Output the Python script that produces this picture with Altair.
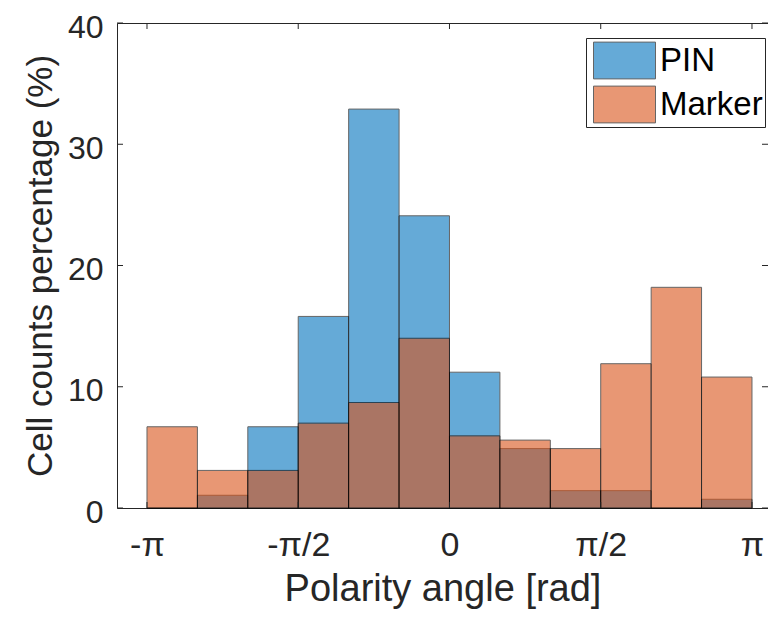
import math
import altair as alt
import pandas as pd

# bin edges in multiples of pi/6 (12 bins from -pi to pi)
edge_sixths = [-6, -5, -4, -3, -2, -1, 0, 1, 2, 3, 4, 5, 6]
pin_pct = [0, 1.05, 6.7, 15.8, 32.9, 24.1, 11.2, 4.9, 1.43, 1.43, 0, 0.72]
marker_pct = [6.7, 3.1, 3.1, 7.0, 8.7, 14.0, 5.95, 5.6, 4.9, 11.9, 18.2, 10.8]
series_names = ["PIN", "Marker"]
series_colors = ["#0072BD", "#D95319"]

x_tick_values = [-math.pi, -math.pi / 2, 0, math.pi / 2, math.pi]
x_tick_labels = ["-π", "-π/2", "0", "π/2", "π"]
y_tick_values = [0, 10, 20, 30, 40]

W, H = 651, 485
FONT = "Liberation Sans"
TXT = "#262626"

edges = [k * math.pi / 6 for k in edge_sixths]
rows = []
for name, vals in zip(series_names, [pin_pct, marker_pct]):
    for i, v in enumerate(vals):
        rows.append({"series": name, "x0": edges[i], "x1": edges[i + 1], "pct": v})
df = pd.DataFrame(rows)

xscale = alt.Scale(domain=[-3.453, 3.308], nice=False, zero=False)
yscale = alt.Scale(domain=[0, 40], nice=False)

label_expr = " : ".join(
    [f"abs(datum.value - ({v})) < 0.01 ? '{l}'" for v, l in zip(x_tick_values, x_tick_labels)]
) + " : ''"

bars = alt.Chart(df).mark_bar(opacity=0.6, stroke="black", strokeWidth=1, strokeOpacity=1).encode(
    x=alt.X("x0:Q", scale=xscale,
            axis=alt.Axis(values=x_tick_values, labelExpr=label_expr, title="Polarity angle [rad]",
                          domain=False, grid=False, ticks=False, labelPadding=20,
                          labelFontSize=34, labelFont=FONT, labelColor=TXT,
                          titleFontSize=38, titleFont=FONT, titleColor=TXT, titleFontWeight="normal",
                          titlePadding=8, labelFlush=False)),
    x2="x1:Q",
    y=alt.Y("pct:Q", scale=yscale, stack=None,
            axis=alt.Axis(values=y_tick_values, title="Cell counts percentage (%)",
                          domain=False, grid=False, ticks=False, labelPadding=14, labelOffset=4,
                          labelFontSize=32, labelFont=FONT, labelColor=TXT,
                          titleFontSize=35, titleFont=FONT, titleColor=TXT, titleFontWeight="normal",
                          titlePadding=9, labelFlush=False)),
    y2=alt.datum(0),
    color=alt.Color("series:N", sort=series_names,
                    scale=alt.Scale(domain=series_names, range=series_colors),
                    legend=alt.Legend(title=None, orient="none", legendX=469, legendY=15,
                                      symbolType="M-1.55,-0.92H1.55V0.92H-1.55Z", symbolSize=1600,
                                      symbolOpacity=0.6, symbolStrokeColor="black", symbolStrokeWidth=1,
                                      symbolOffset=16, labelOffset=15, rowPadding=3,
                                      labelFontSize=33, labelFont=FONT, labelColor="black",
                                      strokeColor=TXT, fillColor="white", padding=2)),
)

xt = pd.DataFrame({"t": x_tick_values})
yt = pd.DataFrame({"t": y_tick_values})
tick_b = alt.Chart(xt).mark_rule(color=TXT, strokeWidth=1).encode(
    x=alt.X("t:Q", scale=xscale), y=alt.value(H), y2=alt.value(H - 6))
tick_t = alt.Chart(xt).mark_rule(color=TXT, strokeWidth=1).encode(
    x=alt.X("t:Q", scale=xscale), y=alt.value(0), y2=alt.value(6))
tick_l = alt.Chart(yt).mark_rule(color=TXT, strokeWidth=1).encode(
    y=alt.Y("t:Q", scale=yscale), x=alt.value(0), x2=alt.value(6))
tick_r = alt.Chart(yt).mark_rule(color=TXT, strokeWidth=1).encode(
    y=alt.Y("t:Q", scale=yscale), x=alt.value(W - 6), x2=alt.value(W))

chart = alt.layer(bars, tick_b, tick_t, tick_l, tick_r).properties(
    width=W, height=H, autosize="none",
    padding={"left": 109, "top": 15, "right": 0, "bottom": 102},
).configure_view(stroke=TXT, strokeWidth=1)

chart.save("out.html", embed_options={"renderer": "svg", "actions": False})
